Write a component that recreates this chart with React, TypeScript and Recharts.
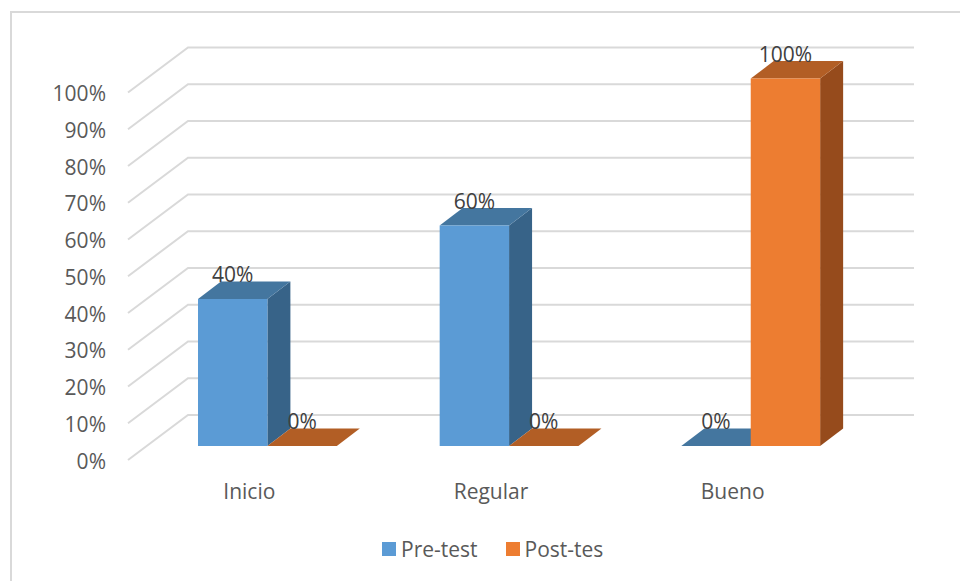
import { Bar, BarChart, CartesianGrid, LabelList, Legend, XAxis, YAxis } from 'recharts';

const categories = ['Inicio', 'Regular', 'Bueno'];
const preTest = [40, 60, 0];
const postTest = [0, 0, 100];
const valueTicks = [0, 10, 20, 30, 40, 50, 60, 70, 80, 90, 100];
const seriesNames = ['Pre-test', 'Post-tes'];

const data = categories.map((name, i) => ({ name, pre: preTest[i], post: postTest[i] }));

const FONT = '"Open Sans", sans-serif';
const DEPTH_X = 23;
const DEPTH_Y = 17.5;

// the axis sits in front of the bars, the wall behind them
const AXIS_DX = -19;
const AXIS_DY = 14;
const WALL_DX = 41;
const WALL_DY = -31;
const WALL_RIGHT = 914;

function Bar3D({ x, y, width, height, fill, top, side }: any) {
  const r = x + width;
  const b = y + height;
  return (
    <g>
      {height > 0 && <polygon points={`${r},${y} ${r + DEPTH_X},${y - DEPTH_Y} ${r + DEPTH_X},${b - DEPTH_Y} ${r},${b}`} fill={side} />}
      <polygon points={`${x},${y} ${r},${y} ${r + DEPTH_X},${y - DEPTH_Y} ${x + DEPTH_X},${y - DEPTH_Y}`} fill={top} />
      {height > 0 && <rect x={x} y={y} width={width} height={height} fill={fill} />}
    </g>
  );
}

function GridLine({ x1, y1 }: any) {
  const left = x1 + AXIS_DX;
  const wall = x1 + WALL_DX;
  return (
    <polyline
      points={`${left},${y1 + AXIS_DY} ${wall},${y1 + WALL_DY} ${WALL_RIGHT},${y1 + WALL_DY}`}
      fill="none" stroke="#d9d9d9" strokeWidth={2}
    />
  );
}

function ValueTick({ y, payload }: any) {
  return (
    <text x={106} y={y + AXIS_DY + 8.5} textAnchor="end" fontSize={21} fontFamily={FONT} fill="#595959">
      {payload.value}%
    </text>
  );
}

function CategoryTick({ x, y, payload }: any) {
  return (
    <text x={x + AXIS_DX + 0.5} y={y + 45} textAnchor="middle" fontSize={21} fontFamily={FONT} fill="#595959">
      {payload.value}
    </text>
  );
}

function ValueLabel({ x, y, width, value }: any) {
  return (
    <text x={x + width / 2} y={y - 17} textAnchor="middle" fontSize={21} fontFamily={FONT} fill="#404040">
      {value}%
    </text>
  );
}

function LegendRow({ payload }: any) {
  return (
    <div style={{ display: 'flex', justifyContent: 'flex-start', marginLeft: 382, gap: 28, fontFamily: FONT, fontSize: 21, color: '#595959', lineHeight: '26px' }}>
      {payload.map((item: any) => (
        <span key={item.value} style={{ display: 'flex', alignItems: 'center', gap: 5 }}>
          <span style={{ width: 14, height: 14, background: item.color }} />
          {item.value}
        </span>
      ))}
    </div>
  );
}

export default function App() {
  return (
    <div style={{ position: 'absolute', left: 0, top: 0, width: 960, height: 581, background: '#fff', overflow: 'hidden' }}>
      <div style={{ position: 'absolute', left: 10, top: 11, right: 0, bottom: 0, borderLeft: '2px solid #d9d9d9', borderTop: '2px solid #d9d9d9' }} />
      <BarChart
        width={960} height={581} data={data}
        margin={{ top: 78.5, right: 88, left: 0, bottom: 0 }}
        barSize={69.4} barGap={0}
        style={{ position: 'absolute', left: 0, top: 0 }}
      >
        <CartesianGrid vertical={false} horizontal={(props: any) => <GridLine key={props.key} {...props} />} />
        <XAxis dataKey="name" axisLine={false} tickLine={false} height={100} tick={<CategoryTick />} interval={0} />
        <YAxis width={147} domain={[0, 100]} ticks={valueTicks} axisLine={false} tickLine={false} tick={<ValueTick />} interval={0} />
        <Legend content={<LegendRow />} height={35} verticalAlign="bottom" wrapperStyle={{ left: 0, width: 960, bottom: 10 }}
          itemSorter={(item: any) => seriesNames.indexOf(item.value)} />
        <Bar dataKey="pre" name={seriesNames[0]} fill="#5b9bd5" isAnimationActive={false}
          shape={(p: any) => <Bar3D {...p} fill="#5b9bd5" top="#44769f" side="#376388" />}>
          <LabelList dataKey="pre" content={<ValueLabel />} />
        </Bar>
        <Bar dataKey="post" name={seriesNames[1]} fill="#ed7d31" isAnimationActive={false}
          shape={(p: any) => <Bar3D {...p} fill="#ed7d31" top="#b25e25" side="#964b1c" />}>
          <LabelList dataKey="post" content={<ValueLabel />} />
        </Bar>
      </BarChart>
    </div>
  );
}
